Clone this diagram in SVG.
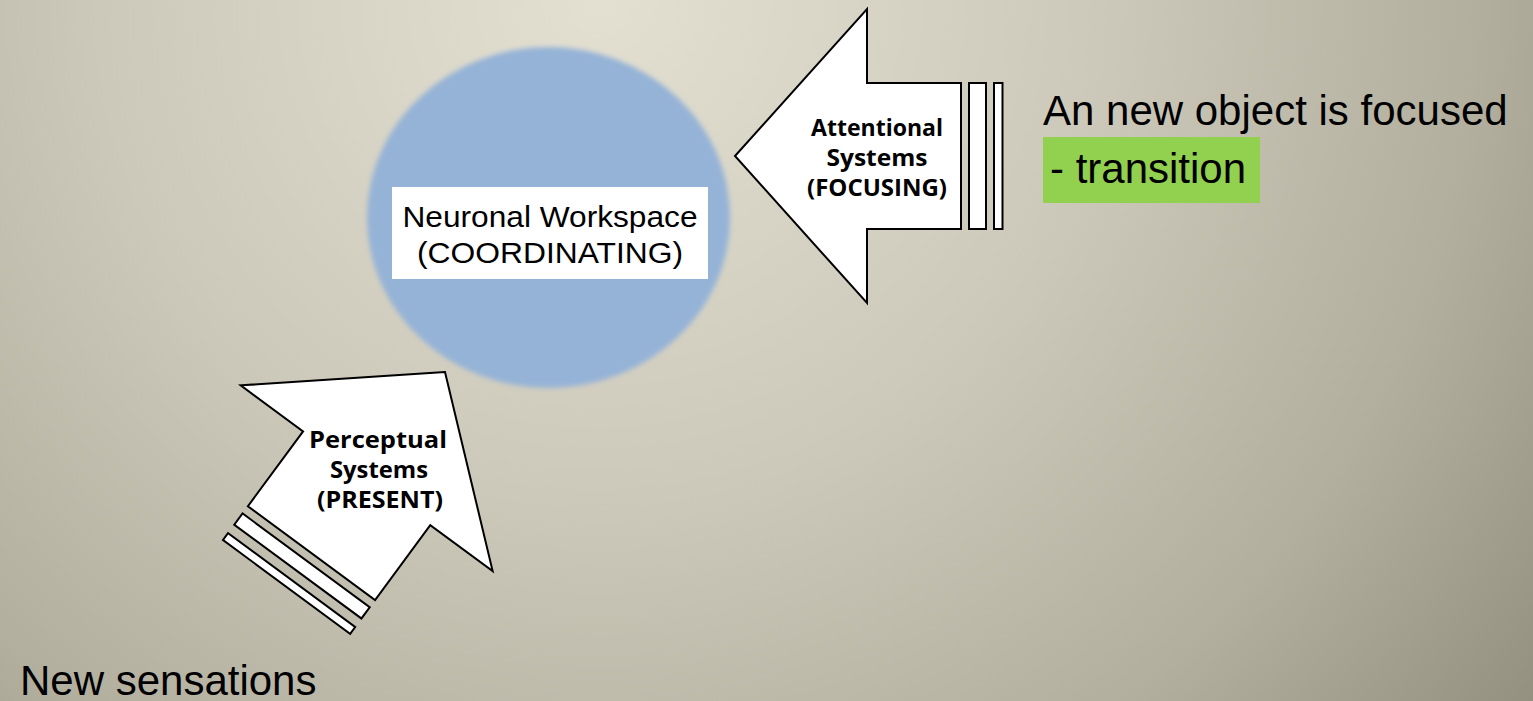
<svg xmlns="http://www.w3.org/2000/svg" width="1533" height="701" viewBox="0 0 1533 701">
  <defs>
    <radialGradient id="bg" gradientUnits="userSpaceOnUse" cx="600" cy="0" r="1250">
      <stop offset="0" stop-color="#E3E0D2"/>
      <stop offset="0.4" stop-color="#CDC9BA"/>
      <stop offset="0.7" stop-color="#B3AF9F"/>
      <stop offset="1" stop-color="#8C8878"/>
    </radialGradient>
    <filter id="soft" x="-10%" y="-10%" width="120%" height="120%">
      <feGaussianBlur stdDeviation="2.5"/>
    </filter>
  </defs>
  <style>
    .shape { fill: #FFFFFF; stroke: #000000; stroke-width: 2; stroke-linejoin: miter; }
    .albl { font-family: "Open Sans", "Noto Sans", "DejaVu Sans", sans-serif; font-weight: bold; font-size: 24px; fill: #000000; text-anchor: middle; }
    .wlbl { font-family: "Liberation Sans", Arial, sans-serif; font-size: 30px; fill: #000000; text-anchor: middle; }
    .big { font-family: "Liberation Sans", Arial, sans-serif; font-size: 42px; fill: #000000; }
  </style>
  <rect x="0" y="0" width="1533" height="701" fill="url(#bg)"/>

  <g id="workspace">
    <ellipse cx="548.5" cy="217.5" rx="181.5" ry="170.5" fill="#95B3D7" filter="url(#soft)"/>
    <rect x="392" y="187" width="316" height="92" fill="#FFFFFF"/>
    <text class="wlbl" x="550" y="227" textLength="295" lengthAdjust="spacingAndGlyphs">Neuronal Workspace</text>
    <text class="wlbl" x="550" y="263" textLength="266" lengthAdjust="spacingAndGlyphs">(COORDINATING)</text>
  </g>

  <g id="connectors">
    <g id="attentional-arrow">
      <polygon class="shape" points="735,156 867,9 867,83 961,83 961,229 867,229 867,303"/>
      <rect class="shape" x="969" y="83" width="17" height="146"/>
      <rect class="shape" x="994" y="83" width="8.5" height="146"/>
    </g>
    <g id="perceptual-arrow" transform="translate(445,372) rotate(-53.6)">
      <polygon class="shape" points="0,0 -132,-156.5 -132,-79 -225,-79 -225,79 -132,79 -132,156.5"/>
      <rect class="shape" x="-248" y="-79" width="14" height="158"/>
      <rect class="shape" x="-267" y="-79" width="8.5" height="158"/>
    </g>
  </g>

  <g id="attentional">
    <text class="albl" x="877" y="136" textLength="132" lengthAdjust="spacingAndGlyphs">Attentional</text>
    <text class="albl" x="877" y="166" textLength="101" lengthAdjust="spacingAndGlyphs">Systems</text>
    <text class="albl" x="877" y="196" textLength="140" lengthAdjust="spacingAndGlyphs">(FOCUSING)</text>
  </g>

  <g id="perceptual">
    <text class="albl" x="378" y="448" textLength="138" lengthAdjust="spacingAndGlyphs">Perceptual</text>
    <text class="albl" x="379" y="478" textLength="98" lengthAdjust="spacingAndGlyphs">Systems</text>
    <text class="albl" x="380" y="508" textLength="126" lengthAdjust="spacingAndGlyphs">(PRESENT)</text>
  </g>

  <g id="focus-note">
    <text class="big" x="1043" y="125">An new object is focused</text>
    <rect x="1043" y="137" width="217" height="66" fill="#92D050"/>
    <text class="big" x="1050" y="183">- transition</text>
  </g>

  <g id="sensations-note">
    <text class="big" x="20" y="695">New sensations</text>
  </g>
</svg>
